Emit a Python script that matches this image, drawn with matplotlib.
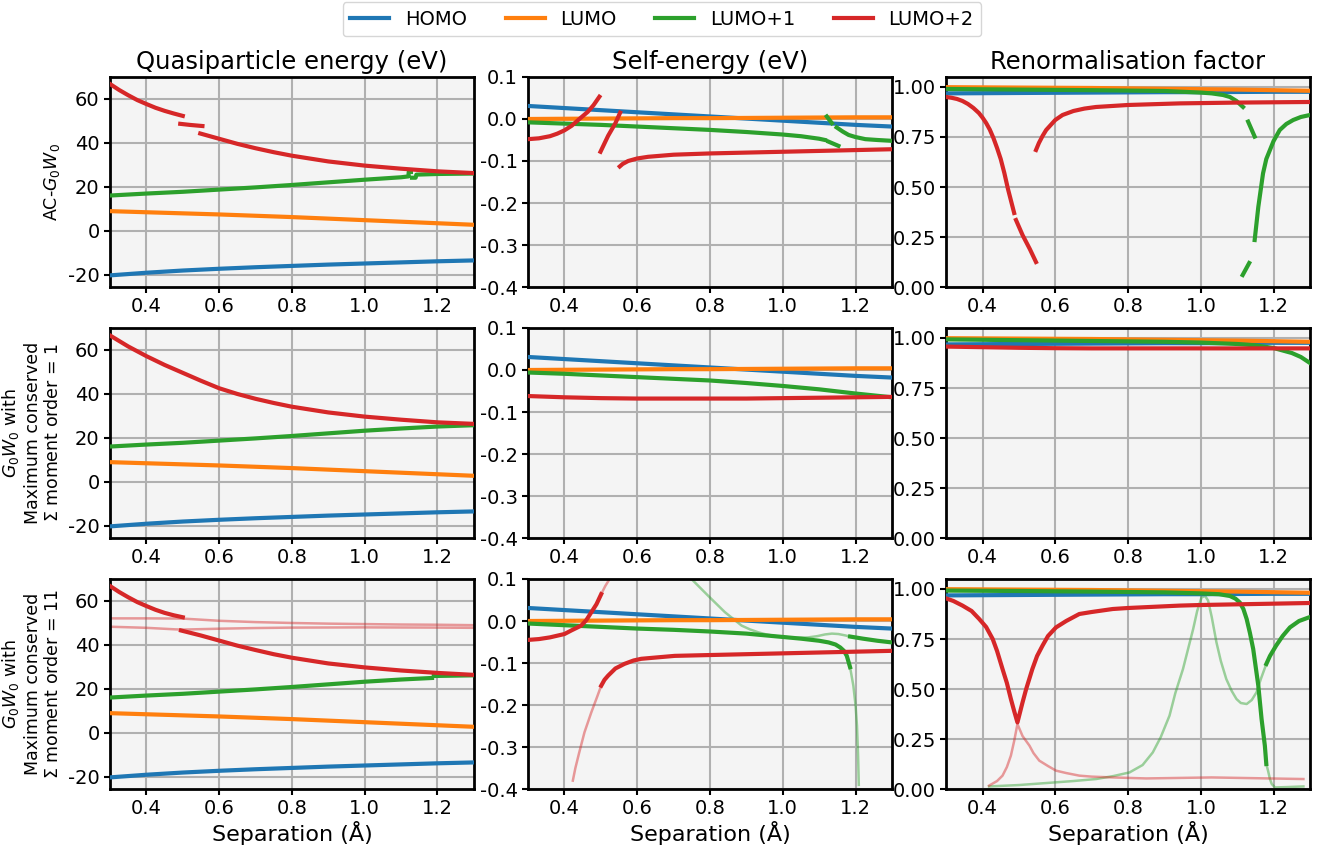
import numpy as np
import matplotlib
matplotlib.use("Agg")
import matplotlib.pyplot as plt

nan = np.nan

# separation grid (Angstrom)
sep = [0.3, 0.4, 0.5, 0.6, 0.7, 0.8, 0.9, 1.0, 1.1, 1.2, 1.3]

# ---- quasiparticle energies (eV) ----
homo_qp = [-20.2, -19.0, -18.0, -17.2, -16.5, -15.9, -15.3, -14.8, -14.3, -13.8, -13.4]
lumo_qp = [9.0, 8.5, 8.0, 7.5, 6.9, 6.3, 5.6, 4.9, 4.2, 3.5, 2.8]
lumo1_qp = [16.1, 17.0, 17.8, 18.8, 19.8, 20.9, 22.1, 23.3, 24.3, 25.2, 25.8]
m1_lumo2_qp_x = [0.3, 0.35, 0.4, 0.45, 0.5, 0.55, 0.6, 0.65, 0.7, 0.75, 0.8, 0.9, 1.0, 1.1, 1.2, 1.3]
m1_lumo2_qp = [66.6, 61.6, 57.2, 53.2, 49.6, 46.0, 42.6, 40.0, 37.8, 35.9, 34.2, 31.6, 29.7, 28.3, 27.1, 26.4]

# AC-G0W0 branches
ac_lumo1_qp_x = [0.3, 0.4, 0.5, 0.6, 0.7, 0.8, 0.9, 1.0, 1.1, 1.12, 1.121, 1.127, nan,
                 1.13, 1.14, 1.142, 1.2, 1.3]
ac_lumo1_qp = [16.1, 17.0, 17.8, 18.8, 19.8, 20.9, 22.1, 23.3, 24.4, 24.8, 26.8, 26.8, nan,
               24.2, 24.2, 25.6, 25.9, 26.1]
ac_lumo2_qp_x = [0.3, 0.325, 0.35, 0.375, 0.4, 0.425, 0.45, 0.475, 0.5, nan, 0.493, 0.52, 0.554, nan,
                 0.548, 0.6, 0.65, 0.7, 0.75, 0.8, 0.9, 1.0, 1.1, 1.2, 1.3]
ac_lumo2_qp = [66.8, 64.1, 61.7, 59.5, 57.7, 56.0, 54.6, 53.4, 52.3, nan, 48.7, 48.2, 47.7, nan,
               44.3, 41.9, 39.6, 37.6, 35.8, 34.2, 31.6, 29.7, 28.3, 27.1, 26.3]

# moment order 11 branches
m11_lumo1_qp_x = [0.3, 0.4, 0.5, 0.6, 0.7, 0.8, 0.9, 1.0, 1.1, 1.185, nan, 1.19, 1.3]
m11_lumo1_qp = [16.1, 17.0, 17.8, 18.8, 19.8, 20.9, 22.1, 23.3, 24.3, 25.0, nan, 25.9, 26.2]
m11_lumo2_qp_x = [0.3, 0.325, 0.35, 0.375, 0.4, 0.425, 0.45, 0.475, 0.5, nan,
                  0.495, 0.55, 0.6, 0.65, 0.7, 0.75, 0.8, 0.9, 1.0, 1.1, 1.2, 1.3]
m11_lumo2_qp = [66.8, 64.1, 61.7, 59.5, 57.7, 56.0, 54.6, 53.5, 52.6, nan,
                46.6, 44.3, 42.0, 39.7, 37.7, 35.8, 34.2, 31.6, 29.8, 28.4, 27.3, 26.4]
m11_sat_a_x = [0.3, 0.4, 0.5, 0.55, 0.6, 0.7, 0.8, 0.9, 1.0, 1.1, 1.2, 1.3]
m11_sat_a = [52.1, 52.1, 52.0, 51.5, 51.0, 50.4, 50.0, 49.7, 49.5, 49.3, 49.2, 49.0]
m11_sat_b_x = [0.3, 0.4, 0.48, 0.5, 0.55, 0.6, 0.7, 0.8, 1.0, 1.2, 1.3]
m11_sat_b = [48.3, 47.8, 47.1, 47.0, 47.2, 47.4, 47.7, 47.9, 48.0, 47.9, 47.8]

# ---- self-energies (eV) ----
homo_se = [0.031, 0.026, 0.021, 0.016, 0.011, 0.006, 0.001, -0.004, -0.009, -0.014, -0.018]
lumo_se = [0.000, 0.0005, 0.001, 0.0015, 0.002, 0.002, 0.0025, 0.003, 0.0035, 0.004, 0.004]
m1_lumo1_se = [-0.006, -0.009, -0.013, -0.017, -0.021, -0.025, -0.031, -0.038, -0.046, -0.056, -0.065]
m1_lumo2_se = [-0.062, -0.065, -0.067, -0.068, -0.068, -0.068, -0.068, -0.067, -0.066, -0.065, -0.064]

ac_lumo1_se_x = [0.3, 0.4, 0.5, 0.6, 0.7, 0.8, 0.9, 1.0, 1.05, 1.1, 1.116, nan,
                 1.126, 1.153, nan, 1.121, 1.135, nan,
                 1.148, 1.165, 1.181, 1.2, 1.227, 1.26, 1.3]
ac_lumo1_se = [-0.008, -0.011, -0.014, -0.018, -0.022, -0.026, -0.031, -0.037, -0.041, -0.047, -0.050, nan,
               -0.054, -0.064, nan, 0.006, -0.010, nan,
               -0.020, -0.030, -0.038, -0.043, -0.048, -0.050, -0.052]
ac_lumo2_se_x = [0.3, 0.33, 0.36, 0.38, 0.4, 0.42, 0.441, 0.464, 0.48, 0.496, nan,
                 0.499, 0.52, 0.54, 0.553, nan,
                 0.552, 0.56, 0.575, 0.6, 0.63, 0.7, 0.8, 0.9, 1.0, 1.1, 1.2, 1.3]
ac_lumo2_se = [-0.048, -0.046, -0.041, -0.035, -0.027, -0.016, 0.0, 0.017, 0.033, 0.053, nan,
               -0.078, -0.040, -0.010, 0.015, nan,
               -0.113, -0.107, -0.100, -0.094, -0.090, -0.085, -0.082, -0.080, -0.078, -0.076, -0.074, -0.072]

m11_lumo1_se_x = [0.3, 0.4, 0.5, 0.6, 0.7, 0.8, 0.9, 1.0, 1.05, 1.1, 1.126, 1.145, 1.158, 1.168, 1.176,
                  1.185, nan, 1.185, 1.22, 1.26, 1.3]
m11_lumo1_se = [-0.006, -0.010, -0.014, -0.018, -0.021, -0.025, -0.030, -0.038, -0.042, -0.047, -0.051,
                -0.056, -0.063, -0.071, -0.083, -0.110, nan, -0.037, -0.042, -0.047, -0.051]
m11_sat1_se_x = [0.72, 0.749, 0.795, 0.841, 0.887, 0.91, 0.933, 0.955, 0.98, 1.03, 1.07, 1.095, 1.116,
                 1.135, 1.153, 1.17, 1.185, 1.22, 1.26, 1.3]
m11_sat1_se = [0.14, 0.1, 0.06, 0.021, -0.011, -0.020, -0.027, -0.032, -0.036, -0.040, -0.039, -0.036,
               -0.032, -0.030, -0.031, -0.034, -0.037, -0.042, -0.047, -0.051]
m11_sat1b_se_x = [1.176, 1.185, 1.194, 1.2, 1.204, 1.207, 1.209]
m11_sat1b_se = [-0.083, -0.110, -0.154, -0.2, -0.249, -0.32, -0.39]
m11_lumo2_se_x = [0.3, 0.33, 0.36, 0.38, 0.4, 0.42, 0.446, 0.46, 0.474, 0.488, 0.501, nan,
                  0.501, 0.51, 0.52, 0.54, 0.565, 0.59, 0.611, 0.65, 0.703, 0.8, 0.9, 1.0, 1.1, 1.2, 1.3]
m11_lumo2_se = [-0.045, -0.043, -0.039, -0.035, -0.031, -0.022, -0.011, 0.002, 0.021, 0.040, 0.064, nan,
                -0.154, -0.140, -0.130, -0.113, -0.102, -0.094, -0.090, -0.087, -0.083, -0.081, -0.079,
                -0.077, -0.075, -0.073, -0.071]
m11_sat2_se_x = [0.423, 0.43, 0.44, 0.455, 0.474, 0.49, 0.501, nan, 0.501, 0.512, 0.524, 0.53]
m11_sat2_se = [-0.380, -0.350, -0.315, -0.265, -0.217, -0.180, -0.154, nan, 0.064, 0.083, 0.1, 0.11]

# ---- renormalisation factors ----
homo_z = [0.968, 0.969, 0.970, 0.971, 0.972, 0.973, 0.974, 0.974, 0.975, 0.976, 0.976]
lumo_z = [0.999, 0.998, 0.997, 0.996, 0.995, 0.993, 0.991, 0.989, 0.987, 0.984, 0.981]
m1_lumo1_z_x = [0.3, 0.4, 0.5, 0.6, 0.7, 0.8, 0.9, 1.0, 1.1, 1.15, 1.2, 1.25, 1.275, 1.3]
m1_lumo1_z = [0.993, 0.991, 0.989, 0.987, 0.985, 0.983, 0.981, 0.977, 0.970, 0.963, 0.950, 0.925, 0.905, 0.875]
m1_lumo2_z = [0.957, 0.954, 0.951, 0.949, 0.948, 0.948, 0.948, 0.948, 0.948, 0.948, 0.948]

ac_lumo1_z_x = [0.3, 0.5, 0.7, 0.9, 1.0, 1.03, 1.061, 1.08, 1.098, 1.116, nan, 1.130, 1.148, nan,
                1.115, 1.133, nan,
                1.148, 1.158, 1.171, 1.18, 1.19, 1.2, 1.217, 1.235, 1.254, 1.275, 1.3]
ac_lumo1_z = [0.990, 0.987, 0.984, 0.980, 0.972, 0.968, 0.960, 0.950, 0.930, 0.90, nan, 0.827, 0.752, nan,
              0.06, 0.12, nan,
              0.235, 0.40, 0.568, 0.64, 0.685, 0.73, 0.785, 0.815, 0.835, 0.85, 0.86]
ac_lumo2_z_x = [0.3, 0.315, 0.33, 0.345, 0.36, 0.375, 0.39, 0.40, 0.41, 0.42, 0.43, 0.44, 0.45, 0.46,
                0.47, 0.487, nan,
                0.492, 0.51, 0.53, 0.547, nan,
                0.547, 0.555, 0.565, 0.575, 0.59, 0.6, 0.62, 0.65, 0.68, 0.712, 0.8, 0.942, 1.1, 1.3]
ac_lumo2_z = [0.95, 0.946, 0.94, 0.93, 0.915, 0.895, 0.87, 0.847, 0.82, 0.787, 0.745, 0.695, 0.64, 0.57,
              0.49, 0.37, nan,
              0.335, 0.26, 0.19, 0.125, nan,
              0.685, 0.72, 0.755, 0.785, 0.815, 0.835, 0.86, 0.88, 0.892, 0.90, 0.91, 0.918, 0.922, 0.925]

m11_lumo1_z_x = [0.3, 0.5, 0.7, 0.9, 1.0, 1.05, 1.08, 1.095, 1.107, 1.117, 1.126, 1.135, 1.144, 1.158,
                 1.167, 1.176, 1.18, nan,
                 1.18, 1.19, 1.207, 1.225, 1.245, 1.27, 1.3]
m11_lumo1_z = [0.992, 0.99, 0.987, 0.983, 0.978, 0.974, 0.965, 0.952, 0.933, 0.90, 0.85, 0.78, 0.70, 0.517,
               0.35, 0.217, 0.125, nan,
               0.625, 0.665, 0.717, 0.765, 0.808, 0.84, 0.86]
m11_sat1_z_x = [0.418, 0.5, 0.575, 0.65, 0.712, 0.76, 0.804, 0.84, 0.868, 0.89, 0.914, 0.93, 0.951,
                0.965, 0.979, 0.99, 1.002, 1.012, 1.02, 1.03, 1.043, 1.055, 1.07, 1.085, 1.098, 1.11,
                1.126, 1.14, 1.153, 1.165, 1.18, nan,
                1.18, 1.185, 1.19, 1.195, 1.204, 1.24, 1.282]
m11_sat1_z = [0.013, 0.02, 0.03, 0.04, 0.05, 0.065, 0.083, 0.12, 0.183, 0.26, 0.367, 0.48, 0.60,
              0.70, 0.80, 0.89, 0.958, 0.965, 0.942, 0.86, 0.733, 0.64, 0.55, 0.49, 0.45, 0.43,
              0.425, 0.445, 0.483, 0.55, 0.625, nan,
              0.125, 0.09, 0.05, 0.025, 0.008, 0.01, 0.013]
m11_lumo2_z_x = [0.3, 0.32, 0.345, 0.37, 0.391, 0.41, 0.428, 0.44, 0.455, 0.467, 0.478, 0.487, 0.496,
                 0.51, 0.52, 0.537, 0.55, 0.565, 0.58, 0.602, 0.63, 0.666, 0.7, 0.758, 0.8, 0.942, 1.0, 1.3]
m11_lumo2_z = [0.953, 0.94, 0.917, 0.89, 0.85, 0.81, 0.75, 0.69, 0.60, 0.53, 0.45, 0.39, 0.333,
               0.433, 0.50, 0.60, 0.665, 0.717, 0.765, 0.808, 0.84, 0.875, 0.885, 0.90, 0.905, 0.917, 0.92, 0.93]
m11_sat2_z_x = [0.418, 0.44, 0.455, 0.467, 0.478, 0.487, 0.496, 0.51, 0.529, 0.54, 0.556, 0.58, 0.602,
                0.63, 0.666, 0.7, 0.758, 0.85, 1.03, 1.282]
m11_sat2_z = [0.017, 0.04, 0.067, 0.11, 0.167, 0.24, 0.325, 0.265, 0.217, 0.18, 0.142, 0.115, 0.092,
              0.08, 0.067, 0.062, 0.058, 0.053, 0.058, 0.05]

labels = ["HOMO", "LUMO", "LUMO+1", "LUMO+2"]
colours = ["C0", "C1", "C2", "C3"]
col_titles = ["Quasiparticle energy (eV)", "Self-energy (eV)", "Renormalisation factor"]
row_labels = ["AC-$G_0W_0$",
              "$G_0W_0$ with\nMaximum conserved\n$\\Sigma$ moment order = 1",
              "$G_0W_0$ with\nMaximum conserved\n$\\Sigma$ moment order = 11"]

plt.rcParams["axes.unicode_minus"] = False

fig, axes = plt.subplots(3, 3, figsize=(13.24, 8.63), dpi=100)
fig.subplots_adjust(left=0.0831, right=0.9894, top=0.9108, bottom=0.0857, wspace=0.149, hspace=0.195)

LW = 3.0
FLW = 1.8
FA = 0.45

# each panel: list of (x, y, colour, faint)
panels = [
    [  # AC-G0W0
        [(sep, homo_qp, "C0", 0), (sep, lumo_qp, "C1", 0),
         (ac_lumo1_qp_x, ac_lumo1_qp, "C2", 0), (ac_lumo2_qp_x, ac_lumo2_qp, "C3", 0)],
        [(sep, homo_se, "C0", 0), (sep, lumo_se, "C1", 0),
         (ac_lumo1_se_x, ac_lumo1_se, "C2", 0), (ac_lumo2_se_x, ac_lumo2_se, "C3", 0)],
        [(sep, homo_z, "C0", 0), (sep, lumo_z, "C1", 0),
         (ac_lumo1_z_x, ac_lumo1_z, "C2", 0), (ac_lumo2_z_x, ac_lumo2_z, "C3", 0)],
    ],
    [  # moment order 1
        [(sep, homo_qp, "C0", 0), (sep, lumo_qp, "C1", 0),
         (sep, lumo1_qp, "C2", 0), (m1_lumo2_qp_x, m1_lumo2_qp, "C3", 0)],
        [(sep, homo_se, "C0", 0), (sep, lumo_se, "C1", 0),
         (sep, m1_lumo1_se, "C2", 0), (sep, m1_lumo2_se, "C3", 0)],
        [(sep, homo_z, "C0", 0), (sep, lumo_z, "C1", 0),
         (m1_lumo1_z_x, m1_lumo1_z, "C2", 0), (sep, m1_lumo2_z, "C3", 0)],
    ],
    [  # moment order 11
        [(m11_sat_a_x, m11_sat_a, "C3", 1), (m11_sat_b_x, m11_sat_b, "C3", 1),
         (sep, homo_qp, "C0", 0), (sep, lumo_qp, "C1", 0),
         (m11_lumo1_qp_x, m11_lumo1_qp, "C2", 0), (m11_lumo2_qp_x, m11_lumo2_qp, "C3", 0)],
        [(m11_sat1_se_x, m11_sat1_se, "C2", 1), (m11_sat1b_se_x, m11_sat1b_se, "C2", 1),
         (m11_sat2_se_x, m11_sat2_se, "C3", 1),
         (sep, homo_se, "C0", 0), (sep, lumo_se, "C1", 0),
         (m11_lumo1_se_x, m11_lumo1_se, "C2", 0), (m11_lumo2_se_x, m11_lumo2_se, "C3", 0)],
        [(m11_sat1_z_x, m11_sat1_z, "C2", 1), (m11_sat2_z_x, m11_sat2_z, "C3", 1),
         (sep, homo_z, "C0", 0), (sep, lumo_z, "C1", 0),
         (m11_lumo1_z_x, m11_lumo1_z, "C2", 0), (m11_lumo2_z_x, m11_lumo2_z, "C3", 0)],
    ],
]

ylims = [(-25.5, 70), (-0.4, 0.1), (0, 1.05)]
yticks = [[-20, 0, 20, 40, 60], [-0.4, -0.3, -0.2, -0.1, 0.0, 0.1], [0, 0.25, 0.5, 0.75, 1.0]]
yfmt = ["{:.0f}", "{:.1f}", "{:.2f}"]

for i in range(3):
    for j in range(3):
        ax = axes[i, j]
        ax.set_facecolor("#f4f4f4")
        for x, y, c, faint in panels[i][j]:
            if faint:
                ax.plot(x, y, color=c, lw=FLW, alpha=FA, zorder=2)
            else:
                ax.plot(x, y, color=c, lw=LW, zorder=3)
        ax.set_xlim(0.3, 1.3)
        ax.set_ylim(*ylims[j])
        ax.set_xticks([0.4, 0.6, 0.8, 1.0, 1.2])
        ax.set_xticklabels(["0.4", "0.6", "0.8", "1.0", "1.2"])
        ax.set_yticks(yticks[j])
        ax.set_yticklabels([yfmt[j].format(v) for v in yticks[j]])
        ax.grid(True, color="#b0b0b0", lw=1.5)
        ax.set_axisbelow(True)
        ax.tick_params(labelsize=14, width=1.5, length=4)
        for s in ax.spines.values():
            s.set_linewidth(2)
        if i == 0:
            ax.set_title(col_titles[j], fontsize=17.5)
        if i == 2:
            ax.set_xlabel("Separation (Å)", fontsize=16, labelpad=2)
        if j == 0:
            ax.set_ylabel(row_labels[i], fontsize=12.5)

handles = [plt.Line2D([], [], color=c, lw=LW) for c in colours]
fig.legend(handles, labels, loc="upper center", bbox_to_anchor=(0.5, 1.0), ncol=4,
           fontsize=14, borderaxespad=0.1)

fig.savefig("out.png", dpi=100)
